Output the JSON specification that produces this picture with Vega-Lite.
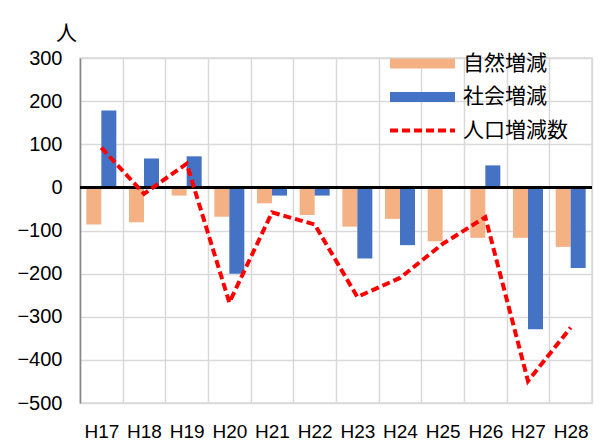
{
  "$schema": "https://vega.github.io/schema/vega-lite/v6.json",
  "width": 512,
  "height": 345,
  "autosize": {"type": "none"},
  "padding": {"left": 80, "top": 58, "right": 24, "bottom": 43},
  "background": "white",
  "view": {"stroke": "#d9d9d9", "strokeWidth": 1.5},
  "config": {
    "font": "Liberation Sans",
    "axis": {"gridColor": "#d9d9d9", "gridWidth": 1.5, "gridOpacity": 1}
  },
  "data": {
    "values": [
      {"year": "H17", "series": "自然増減", "value": -86},
      {"year": "H18", "series": "自然増減", "value": -81},
      {"year": "H19", "series": "自然増減", "value": -19},
      {"year": "H20", "series": "自然増減", "value": -68},
      {"year": "H21", "series": "自然増減", "value": -37},
      {"year": "H22", "series": "自然増減", "value": -64},
      {"year": "H23", "series": "自然増減", "value": -91},
      {"year": "H24", "series": "自然増減", "value": -73},
      {"year": "H25", "series": "自然増減", "value": -125},
      {"year": "H26", "series": "自然増減", "value": -117},
      {"year": "H27", "series": "自然増減", "value": -117},
      {"year": "H28", "series": "自然増減", "value": -138},
      {"year": "H17", "series": "社会増減", "value": 178},
      {"year": "H18", "series": "社会増減", "value": 67},
      {"year": "H19", "series": "社会増減", "value": 72},
      {"year": "H20", "series": "社会増減", "value": -200},
      {"year": "H21", "series": "社会増減", "value": -19},
      {"year": "H22", "series": "社会増減", "value": -19},
      {"year": "H23", "series": "社会増減", "value": -165},
      {"year": "H24", "series": "社会増減", "value": -134},
      {"year": "H25", "series": "社会増減", "value": -3},
      {"year": "H26", "series": "社会増減", "value": 51},
      {"year": "H27", "series": "社会増減", "value": -329},
      {"year": "H28", "series": "社会増減", "value": -187},
      {"year": "H17", "series": "人口増減数", "value": 92},
      {"year": "H18", "series": "人口増減数", "value": -15},
      {"year": "H19", "series": "人口増減数", "value": 55},
      {"year": "H20", "series": "人口増減数", "value": -267},
      {"year": "H21", "series": "人口増減数", "value": -58},
      {"year": "H22", "series": "人口増減数", "value": -86},
      {"year": "H23", "series": "人口増減数", "value": -254},
      {"year": "H24", "series": "人口増減数", "value": -210},
      {"year": "H25", "series": "人口増減数", "value": -131},
      {"year": "H26", "series": "人口増減数", "value": -69},
      {"year": "H27", "series": "人口増減数", "value": -449},
      {"year": "H28", "series": "人口増減数", "value": -325}
    ]
  },
  "layer": [
    {
      "transform": [{"filter": "datum.series !== '人口増減数'"}],
      "mark": {"type": "bar"},
      "encoding": {
        "x": {
          "field": "year",
          "type": "nominal",
          "sort": null,
          "title": null,
          "scale": {"paddingInner": 0, "paddingOuter": 0},
          "axis": {
            "grid": true,
            "tickBand": "extent",
            "ticks": false,
            "domain": false,
            "labelAngle": 0,
            "labelFontSize": 19,
            "labelColor": "black",
            "labelPadding": 19
          }
        },
        "xOffset": {
          "field": "series",
          "type": "nominal",
          "sort": ["自然増減", "社会増減"],
          "scale": {"paddingInner": 0, "paddingOuter": 0.422}
        },
        "y": {
          "field": "value",
          "type": "quantitative",
          "scale": {"domain": [-500, 300], "nice": false},
          "axis": {
            "values": [-500, -400, -300, -200, -100, 0, 100, 200, 300],
            "grid": true,
            "ticks": false,
            "tickSize": 0,
            "labelPadding": 18,
            "labelFontSize": 20,
            "labelColor": "black",
            "labelFlush": false,
            "labelOverlap": false,
            "domainColor": "#868686",
            "domainWidth": 1.5,
            "title": "人",
            "titleAngle": 0,
            "titleX": -14,
            "titleY": -25,
            "titleAlign": "center",
            "titleBaseline": "middle",
            "titleFontSize": 21,
            "titleFontWeight": "normal",
            "titleFont": "Noto Sans CJK JP",
            "titleColor": "black"
          }
        },
        "color": {
          "field": "series",
          "type": "nominal",
          "scale": {
            "domain": ["自然増減", "社会増減", "人口増減数"],
            "range": ["#F4B183", "#4472C4", "#FF0000"]
          },
          "legend": {
            "title": null,
            "orient": "none",
            "legendX": 332,
            "legendY": -5,
            "symbolSize": 4225,
            "rowPadding": 11.5,
            "labelFontSize": 21,
            "labelFont": "Noto Sans CJK JP",
            "labelColor": "black",
            "labelOffset": 30,
            "encode": {
              "symbols": {
                "update": {
                  "shape": {"signal": "datum.value === '人口増減数' ? 'stroke' : 'M-1,-0.154H1V0.154H-1Z'"},
                  "fill": {"signal": "datum.value === '自然増減' ? '#F4B183' : (datum.value === '社会増減' ? '#4472C4' : 'transparent')"},
                  "stroke": {"signal": "datum.value === '人口増減数' ? '#FF0000' : 'transparent'"},
                  "strokeWidth": {"signal": "datum.value === '人口増減数' ? 4 : 0"},
                  "strokeDash": {"signal": "datum.value === '人口増減数' ? [8, 4] : []"},
                  "opacity": {"value": 1}
                }
              }
            }
          }
        }
      }
    },
    {
      "mark": {"type": "rule", "color": "black", "strokeWidth": 2},
      "encoding": {"y": {"datum": 0}}
    },
    {
      "transform": [{"filter": "datum.series === '人口増減数'"}],
      "mark": {"type": "line", "strokeDash": [8, 4], "strokeWidth": 4},
      "encoding": {
        "x": {"field": "year", "type": "nominal", "sort": null},
        "y": {"field": "value", "type": "quantitative"},
        "color": {"field": "series", "type": "nominal"}
      }
    }
  ]
}
